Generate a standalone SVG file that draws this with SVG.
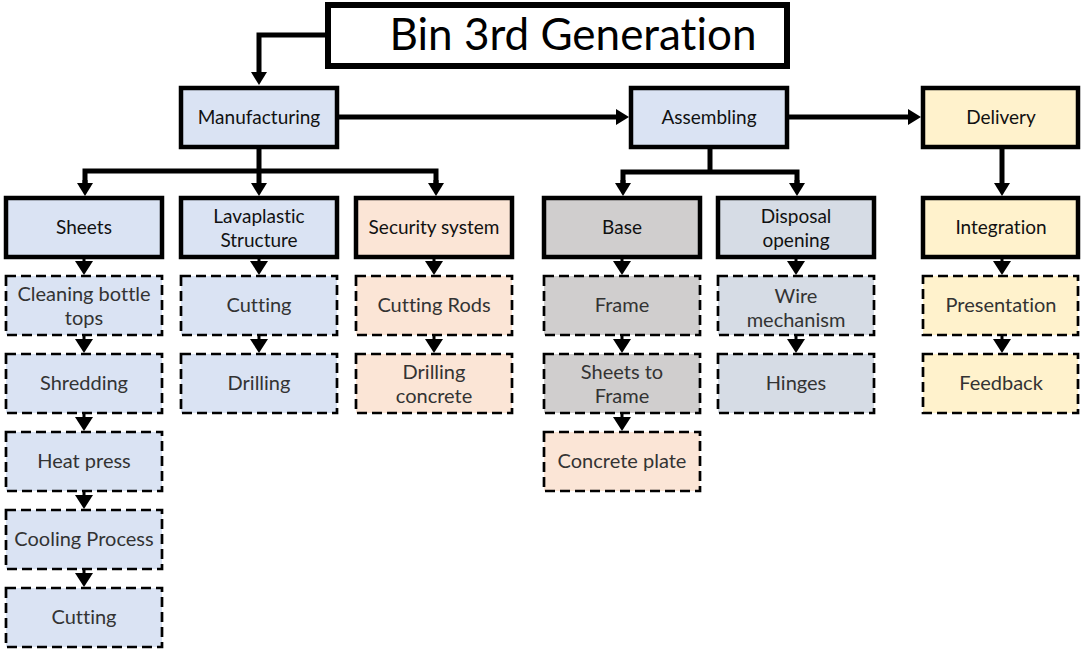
<svg xmlns="http://www.w3.org/2000/svg" width="1081" height="653" viewBox="0 0 1081 653">
  <style>
    .lbl { font-family: Lato, "Open Sans", "Liberation Sans", sans-serif; text-anchor: middle; dominant-baseline: central; font-variant-ligatures: none; }
    .main { font-size: 19px; fill: #111; }
    .sub { font-size: 20px; fill: #333; }
    .title { font-size: 44px; fill: #000; }
    .solid { stroke: #000; stroke-width: 4.5; }
    .dash { stroke: #000; stroke-width: 2.7; stroke-dasharray: 10 5; }
    .blue { fill: #dae3f3; }
    .peach { fill: #fbe5d6; }
    .grey { fill: #d0cece; }
    .slate { fill: #d6dce5; }
    .yellow { fill: #fff2cc; }
    .conn { fill: none; stroke: #000; stroke-width: 5; stroke-linejoin: miter; }
    .step { fill: none; stroke: #000; stroke-width: 3; }
  </style>
  <defs>
    <marker id="arr" markerUnits="userSpaceOnUse" markerWidth="14" markerHeight="16" refX="0" refY="8" orient="auto">
      <path d="M0,0 L13,8 L0,16 z" fill="#000"/>
    </marker>
    <marker id="sm" markerUnits="userSpaceOnUse" markerWidth="15" markerHeight="18" refX="0" refY="9" orient="auto">
      <path d="M0,0 L14,9 L0,18 z" fill="#000"/>
    </marker>
  </defs>

  <rect width="1081" height="653" fill="#fff"/>

  <!-- connectors -->
  <g id="connectors">
    <path class="conn" d="M327,35 H259 V72" marker-end="url(#arr)"/>
    <path class="conn" d="M337,117 H616" marker-end="url(#arr)"/>
    <path class="conn" d="M787,117 H908" marker-end="url(#arr)"/>
    <path class="conn" d="M259,148 V183" marker-end="url(#arr)"/>
    <path class="conn" d="M85,183 V171 H436 V183"/>
    <path class="conn" d="M85,180 V183" marker-end="url(#arr)"/>
    <path class="conn" d="M436,180 V183" marker-end="url(#arr)"/>
    <path class="conn" d="M710,148 V173"/>
    <path class="conn" d="M623,183 V172 H797 V183"/>
    <path class="conn" d="M623,180 V183" marker-end="url(#arr)"/>
    <path class="conn" d="M797,180 V183" marker-end="url(#arr)"/>
    <path class="conn" d="M1002,148 V183" marker-end="url(#arr)"/>
    <!-- step arrows inside columns -->
    <path class="step" d="M84,259 V261" marker-end="url(#sm)"/>
    <path class="step" d="M84,336 V339" marker-end="url(#sm)"/>
    <path class="step" d="M84,414 V417" marker-end="url(#sm)"/>
    <path class="step" d="M84,492 V495" marker-end="url(#sm)"/>
    <path class="step" d="M84,570 V573" marker-end="url(#sm)"/>
    <path class="step" d="M259,259 V261" marker-end="url(#sm)"/>
    <path class="step" d="M259,336 V339" marker-end="url(#sm)"/>
    <path class="step" d="M434,259 V261" marker-end="url(#sm)"/>
    <path class="step" d="M434,336 V339" marker-end="url(#sm)"/>
    <path class="step" d="M622,259 V261" marker-end="url(#sm)"/>
    <path class="step" d="M622,336 V339" marker-end="url(#sm)"/>
    <path class="step" d="M622,414 V417" marker-end="url(#sm)"/>
    <path class="step" d="M796,259 V261" marker-end="url(#sm)"/>
    <path class="step" d="M796,336 V339" marker-end="url(#sm)"/>
    <path class="step" d="M1002,259 V261" marker-end="url(#sm)"/>
    <path class="step" d="M1002,336 V339" marker-end="url(#sm)"/>
  </g>

  <!-- title -->
  <g id="title">
    <rect x="328" y="5" width="459" height="61" fill="#fff" stroke="#000" stroke-width="6"/>
    <text class="lbl title" x="573" y="33">Bin 3rd Generation</text>
  </g>

  <!-- top level phases -->
  <g id="manufacturing">
    <rect class="solid blue" x="181" y="88" width="156" height="59"/>
    <text class="lbl main" x="259" y="116">Manufacturing</text>
  </g>
  <g id="assembling">
    <rect class="solid blue" x="631" y="88" width="156" height="59"/>
    <text class="lbl main" x="709" y="116">Assembling</text>
  </g>
  <g id="delivery">
    <rect class="solid yellow" x="923" y="88" width="155" height="59"/>
    <text class="lbl main" x="1001" y="116">Delivery</text>
  </g>

  <!-- sub-phases -->
  <g id="sheets">
    <rect class="solid blue" x="6" y="198" width="156" height="59"/>
    <text class="lbl main" x="84" y="226">Sheets</text>
  </g>
  <g id="lavaplastic">
    <rect class="solid blue" x="181" y="198" width="156" height="59"/>
    <text class="lbl main" x="259" y="215">Lavaplastic</text>
    <text class="lbl main" x="259" y="239">Structure</text>
  </g>
  <g id="security">
    <rect class="solid peach" x="356" y="198" width="156" height="59"/>
    <text class="lbl main" x="434" y="226">Security system</text>
  </g>
  <g id="base">
    <rect class="solid grey" x="544" y="198" width="156" height="59"/>
    <text class="lbl main" x="622" y="226">Base</text>
  </g>
  <g id="disposal">
    <rect class="solid slate" x="718" y="198" width="156" height="59"/>
    <text class="lbl main" x="796" y="215">Disposal</text>
    <text class="lbl main" x="796" y="239">opening</text>
  </g>
  <g id="integration">
    <rect class="solid yellow" x="923" y="198" width="155" height="59"/>
    <text class="lbl main" x="1001" y="226">Integration</text>
  </g>

  <!-- Sheets tasks -->
  <g id="cleaning">
    <rect class="dash blue" x="6" y="276" width="156" height="59"/>
    <text class="lbl sub" x="84" y="293">Cleaning bottle</text>
    <text class="lbl sub" x="84" y="317">tops</text>
  </g>
  <g id="shredding">
    <rect class="dash blue" x="6" y="354" width="156" height="59"/>
    <text class="lbl sub" x="84" y="382">Shredding</text>
  </g>
  <g id="heat-press">
    <rect class="dash blue" x="6" y="432" width="156" height="59"/>
    <text class="lbl sub" x="84" y="460">Heat press</text>
  </g>
  <g id="cooling">
    <rect class="dash blue" x="6" y="510" width="156" height="59"/>
    <text class="lbl sub" x="84" y="538">Cooling Process</text>
  </g>
  <g id="sheets-cutting">
    <rect class="dash blue" x="6" y="588" width="156" height="59"/>
    <text class="lbl sub" x="84" y="616">Cutting</text>
  </g>

  <!-- Lavaplastic tasks -->
  <g id="lava-cutting">
    <rect class="dash blue" x="181" y="276" width="156" height="59"/>
    <text class="lbl sub" x="259" y="304">Cutting</text>
  </g>
  <g id="lava-drilling">
    <rect class="dash blue" x="181" y="354" width="156" height="59"/>
    <text class="lbl sub" x="259" y="382">Drilling</text>
  </g>

  <!-- Security tasks -->
  <g id="cutting-rods">
    <rect class="dash peach" x="356" y="276" width="156" height="59"/>
    <text class="lbl sub" x="434" y="304">Cutting Rods</text>
  </g>
  <g id="drilling-concrete">
    <rect class="dash peach" x="356" y="354" width="156" height="59"/>
    <text class="lbl sub" x="434" y="371">Drilling</text>
    <text class="lbl sub" x="434" y="395">concrete</text>
  </g>

  <!-- Base tasks -->
  <g id="frame">
    <rect class="dash grey" x="544" y="276" width="156" height="59"/>
    <text class="lbl sub" x="622" y="304">Frame</text>
  </g>
  <g id="sheets-to-frame">
    <rect class="dash grey" x="544" y="354" width="156" height="59"/>
    <text class="lbl sub" x="622" y="371">Sheets to</text>
    <text class="lbl sub" x="622" y="395">Frame</text>
  </g>
  <g id="concrete-plate">
    <rect class="dash peach" x="544" y="432" width="156" height="59"/>
    <text class="lbl sub" x="622" y="460">Concrete plate</text>
  </g>

  <!-- Disposal tasks -->
  <g id="wire">
    <rect class="dash slate" x="718" y="276" width="156" height="59"/>
    <text class="lbl sub" x="796" y="295">Wire</text>
    <text class="lbl sub" x="796" y="319">mechanism</text>
  </g>
  <g id="hinges">
    <rect class="dash slate" x="718" y="354" width="156" height="59"/>
    <text class="lbl sub" x="796" y="382">Hinges</text>
  </g>

  <!-- Integration tasks -->
  <g id="presentation">
    <rect class="dash yellow" x="923" y="276" width="155" height="59"/>
    <text class="lbl sub" x="1001" y="304">Presentation</text>
  </g>
  <g id="feedback">
    <rect class="dash yellow" x="923" y="354" width="155" height="59"/>
    <text class="lbl sub" x="1001" y="382">Feedback</text>
  </g>
</svg>
